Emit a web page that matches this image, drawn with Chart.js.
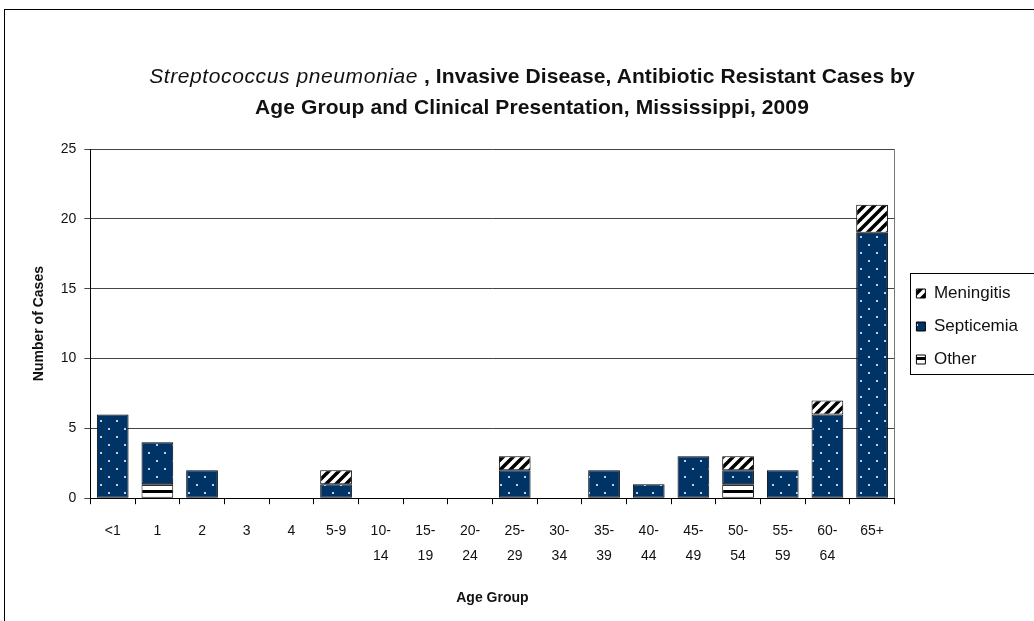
<!DOCTYPE html>
<html>
<head>
<meta charset="utf-8">
<script src="https://cdn.jsdelivr.net/npm/chart.js@4"></script>
<style>
  html, body { margin: 0; padding: 0; background: #fff; overflow: hidden; }
  #wrap { position: relative; width: 1034px; height: 621px; }
  #title {
    position: absolute; left: 0; top: 60px; width: 1064px;
    text-align: center; font: bold 21px "Liberation Sans", Arial, sans-serif;
    line-height: 31px; color: #111; letter-spacing: 0.1px;
  }
  #title i { font-weight: normal; letter-spacing: 0.6px; }
</style>
</head>
<body>
<div id="wrap">
  <canvas id="chart" width="1034" height="621"></canvas>
  <div id="title"><i>Streptococcus pneumoniae</i> , Invasive Disease, Antibiotic Resistant Cases by<br>Age Group and Clinical Presentation, Mississippi, 2009</div>
</div>
<script>
// leeftijdsgroepen (twee regels waar de as ze afbreekt)
const ageGroups = [['<1'], ['1'], ['2'], ['3'], ['4'], ['5-9'], ['10-', '14'], ['15-', '19'], ['20-', '24'],
  ['25-', '29'], ['30-', '34'], ['35-', '39'], ['40-', '44'], ['45-', '49'], ['50-', '54'], ['55-', '59'],
  ['60-', '64'], ['65+']];

// aantallen per klinisch beeld
const other      = [0, 1, 0, 0, 0, 0, 0, 0, 0, 0, 0, 0, 0, 0, 1, 0, 0, 0];
const septicemia = [6, 3, 2, 0, 0, 1, 0, 0, 0, 2, 0, 2, 1, 3, 1, 2, 6, 19];
const meningitis = [0, 0, 0, 0, 0, 1, 0, 0, 0, 1, 0, 0, 0, 0, 1, 0, 1, 2];

const yTicks = [0, 5, 10, 15, 20, 25];

const FONT = '"Liberation Sans", Arial, sans-serif';

// patronen zoals in de excel grafiek
function makePattern(w, h, draw) {
  const c = document.createElement('canvas');
  c.width = w; c.height = h;
  const g = c.getContext('2d');
  draw(g);
  return g.createPattern(c, 'repeat');
}

const dotted = makePattern(16, 16, g => {
  g.fillStyle = '#003366';
  g.fillRect(0, 0, 16, 16);
  g.fillStyle = '#c3d0e0';
  g.fillRect(4, 4, 2, 2);
  g.fillRect(12, 12, 2, 2);
});

const diagonal = makePattern(10, 10, g => {
  g.fillStyle = '#fff';
  g.fillRect(0, 0, 10, 10);
  g.strokeStyle = '#000';
  g.lineWidth = 3.5;
  g.beginPath();
  g.moveTo(-5, 5); g.lineTo(5, -5);
  g.moveTo(0, 10); g.lineTo(10, 0);
  g.moveTo(5, 15); g.lineTo(15, 5);
  g.stroke();
});

const horizontal = makePattern(4, 7, g => {
  g.fillStyle = '#fff';
  g.fillRect(0, 0, 4, 7);
  g.fillStyle = '#000';
  g.fillRect(0, 0, 4, 3);
});

// witte achtergrond, kader en rand rond het plotgebied + legenda
const frame = {
  id: 'frame',
  afterLayout(chart) {
    // legenda iets hoger en verder naar rechts, zoals in het origineel
    const lg = chart.legend;
    const w = lg.width;
    lg.left = chart.chartArea.right + 6;
    lg.right = lg.left + w;
    lg.top = 269;
    lg.bottom = 269 + 130;
  },
  beforeDraw(chart) {
    const ctx = chart.ctx;
    ctx.save();
    ctx.fillStyle = '#fff';
    ctx.fillRect(0, 0, chart.width, chart.height);
    ctx.strokeStyle = '#000';
    ctx.lineWidth = 1;
    ctx.strokeRect(4.5, 9.5, 1100, 700);
    ctx.restore();
  },
  afterDraw(chart) {
    const ctx = chart.ctx;
    const a = chart.chartArea;
    ctx.save();
    ctx.strokeStyle = '#777';
    ctx.lineWidth = 1;
    ctx.beginPath();
    ctx.moveTo(Math.round(a.right) + 0.5, a.top);
    ctx.lineTo(Math.round(a.right) + 0.5, a.bottom);
    ctx.stroke();
    const boxes = chart.legend.legendHitBoxes;
    if (boxes && boxes.length) {
      const top = Math.min(...boxes.map(b => b.top));
      const bottom = Math.max(...boxes.map(b => b.top + b.height));
      const left = Math.min(...boxes.map(b => b.left));
      ctx.strokeStyle = '#000';
      ctx.strokeRect(Math.round(left) - 5.5, Math.round(top) - 11.5, 200, bottom - top + 18);
    }
    ctx.restore();
  }
};

new Chart(document.getElementById('chart'), {
  type: 'bar',
  data: {
    labels: ageGroups,
    datasets: [
      { label: 'Other', data: other, backgroundColor: horizontal },
      { label: 'Septicemia', data: septicemia, backgroundColor: dotted },
      { label: 'Meningitis', data: meningitis, backgroundColor: diagonal }
    ].map(d => Object.assign(d, {
      borderColor: '#000',
      borderWidth: 1,
      borderSkipped: false,
      categoryPercentage: 1,
      barPercentage: 0.71
    }))
  },
  options: {
    responsive: false,
    animation: false,
    layout: { padding: { left: 18, top: 149, right: 12, bottom: 14 } },
    plugins: {
      legend: {
        position: 'right',
        align: 'start',
        reverse: true,
        labels: {
          boxWidth: 9,
          boxHeight: 9,
          padding: 16,
          color: '#111',
          font: { family: FONT, size: 17 }
        }
      },
      tooltip: { enabled: false }
    },
    scales: {
      x: {
        stacked: true,
        grid: { drawOnChartArea: false, offset: true, color: '#000', tickLength: 6 },
        border: { color: '#000' },
        ticks: {
          color: '#111', autoSkip: false, maxRotation: 0, padding: 15,
          font: { family: FONT, size: 14, lineHeight: 1.75 }
        },
        title: {
          display: true, text: 'Age Group', color: '#111',
          font: { family: FONT, size: 14, weight: 'bold' },
          padding: { top: 7, bottom: 0 }
        }
      },
      y: {
        stacked: true,
        min: yTicks[0],
        max: yTicks[yTicks.length - 1],
        afterBuildTicks: axis => { axis.ticks = yTicks.map(v => ({ value: v })); },
        grid: { color: '#444', tickLength: 6 },
        border: { color: '#000' },
        ticks: { color: '#111', padding: 8, font: { family: FONT, size: 14 } },
        title: {
          display: true, text: 'Number of Cases', color: '#111',
          font: { family: FONT, size: 14, weight: 'bold' },
          padding: { top: 13, bottom: 5 }
        }
      }
    }
  },
  plugins: [frame]
});
</script>
</body>
</html>
